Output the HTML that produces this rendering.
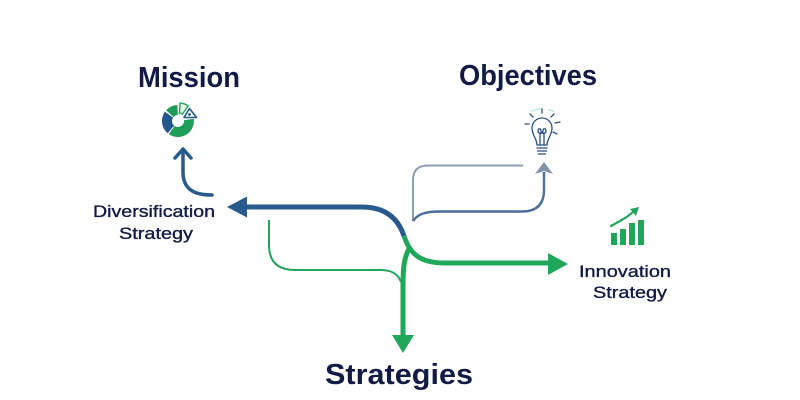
<!DOCTYPE html>
<html><head><meta charset="utf-8"><style>
html,body{margin:0;padding:0;background:#fff;width:800px;height:400px;overflow:hidden}
svg{display:block}
text{font-family:"Liberation Sans",Arial,sans-serif;fill:#111b45}
.t{font-weight:bold;font-size:29px}
.s{font-size:16.5px;stroke:#111b45;stroke-width:0.35}
</style></head><body>
<svg width="800" height="400" viewBox="0 0 800 400" xmlns="http://www.w3.org/2000/svg">
<rect width="800" height="400" fill="#fff"/>
<!-- Titles -->
<text class="t" x="138" y="87" textLength="102" lengthAdjust="spacingAndGlyphs">Mission</text>
<text class="t" x="459" y="85" textLength="138" lengthAdjust="spacingAndGlyphs">Objectives</text>
<text class="t" x="325" y="384" textLength="148" lengthAdjust="spacingAndGlyphs">Strategies</text>
<text class="s" x="93" y="217" textLength="122" lengthAdjust="spacingAndGlyphs">Diversification</text>
<text class="s" x="119" y="239" textLength="74" lengthAdjust="spacingAndGlyphs">Strategy</text>
<text class="s" x="579" y="277" textLength="92" lengthAdjust="spacingAndGlyphs">Innovation</text>
<text class="s" x="593" y="298" textLength="74" lengthAdjust="spacingAndGlyphs">Strategy</text>

<!-- Pie icon -->
<path d="M167.7,133.3 A16,16 0 0 1 164.9,111.8 L173.1,117.6 A6,6 0 0 0 174.1,125.6 Z" fill="#24578c"/>
<path d="M166.1,110.3 A16,16 0 0 1 177.4,105.0 L177.8,115.0 A6,6 0 0 0 173.5,117.0 Z" fill="#1f9e5a"/>
<path d="M193.8,118.8 A16,16 0 0 1 168.8,134.1 L174.6,125.9 A6,6 0 0 0 183.9,120.2 Z" fill="#1f9e5a"/>
<path transform="translate(1,-2)" d="M179.1,105.0 A16,16 0 0 1 187.2,107.9 L181.4,116.1 A6,6 0 0 0 178.4,115.0 Z" fill="#e3f5ea" stroke="#22a55a" stroke-width="1.4"/>
<path d="M189.5,108.5 L196.5,117.5 L184,117.5 Z" fill="#fff" stroke="#24578c" stroke-width="1.6" stroke-linejoin="round"/>
<circle cx="189.5" cy="114.5" r="1.4" fill="#24578c"/>

<!-- Small arrow up to mission -->
<path d="M212,195 C195,195 183,190 183,172 L183,152" fill="none" stroke="#285a8e" stroke-width="3.5" stroke-linecap="round"/>
<polyline points="175,158 183,149 191,158" fill="none" stroke="#285a8e" stroke-width="3.5" stroke-linecap="round" stroke-linejoin="round"/>

<!-- Bulb icon -->
<g fill="none" stroke="#2b4f88" stroke-width="1.3" stroke-linecap="round">
<path d="M537,145 C537,139 532,135 532,128 A10,10 0 1 1 552,128 C552,135 547,139 547,145 Z"/>
<line x1="537" y1="148" x2="547" y2="148"/>
<line x1="537.5" y1="151" x2="546.5" y2="151"/>
<line x1="538.5" y1="154" x2="545.5" y2="154"/>
<path d="M540,145 L540,133 M544,145 L544,133 M538,131 C538,128 541,128 541,131 C541,133 543,133 543,131 C543,128 546,128 546,131 C546,133 544,134 542,133 C540,134 538,133 538,131"/>
<line x1="542" y1="109" x2="542" y2="113"/>
<line x1="530" y1="114" x2="533" y2="117"/>
<line x1="554" y1="114" x2="551" y2="117"/>
<line x1="525" y1="124" x2="529" y2="124"/>
<line x1="555" y1="123" x2="560" y2="122"/>
<line x1="553" y1="132" x2="557" y2="134"/>
</g>
<path d="M531,112 C534,108 538,111 541,108 M548,110 C551,109 552,112 554,111" fill="none" stroke="#9fe0dc" stroke-width="1"/>

<!-- Bar chart icon -->
<g fill="#22a55a">
<rect x="611" y="233" width="6" height="12"/>
<rect x="620" y="229" width="6" height="16"/>
<rect x="629" y="223" width="6" height="22"/>
<rect x="638" y="220" width="6" height="25"/>
</g>
<path d="M611,226 C620,221 628,217 634,211" fill="none" stroke="#22a55a" stroke-width="2.2" stroke-linecap="round"/>
<polygon points="639,207 636,216 630,209" fill="#22a55a"/>

<!-- Gray thin line -->
<path d="M523,165.5 L428,165.5 Q413,165.5 413,180 L413,221" fill="none" stroke="#8d9eb0" stroke-width="2"/>
<!-- Thin blue line to objectives -->
<path d="M413,221 C418,214 425,211.5 440,211.5 L522,211.5 Q544,211.5 544,190 L544,172" fill="none" stroke="#4b6e9c" stroke-width="2.4"/>
<polygon points="535,174 544,162 553,174 544,171" fill="#7f93aa"/>

<!-- Thin green line -->
<path d="M269,220 L269,245 C269,262 278,270 295,270 L380,270 C392,270 398,274 401,282" fill="none" stroke="#22a55a" stroke-width="2"/>

<!-- Thick blue arrow -->
<path d="M244,207 L362,207 C385,207 398,218 404,236" fill="none" stroke="#285a8e" stroke-width="5"/>
<polygon points="247,196.5 227,207 247,217.5" fill="#285a8e"/>

<!-- Thick green to right -->
<path d="M404,236 C410,254 420,263 445,263 L551,263" fill="none" stroke="#1fa75a" stroke-width="5"/>
<polygon points="548,253 568,264 548,275" fill="#1fa75a"/>

<!-- Thick green down -->
<path d="M410,247 C404,257 403,268 403,285 L403,337" fill="none" stroke="#1fa75a" stroke-width="5"/>
<polygon points="392,335 414,335 403,353" fill="#1fa75a"/>
</svg>
</body></html>
